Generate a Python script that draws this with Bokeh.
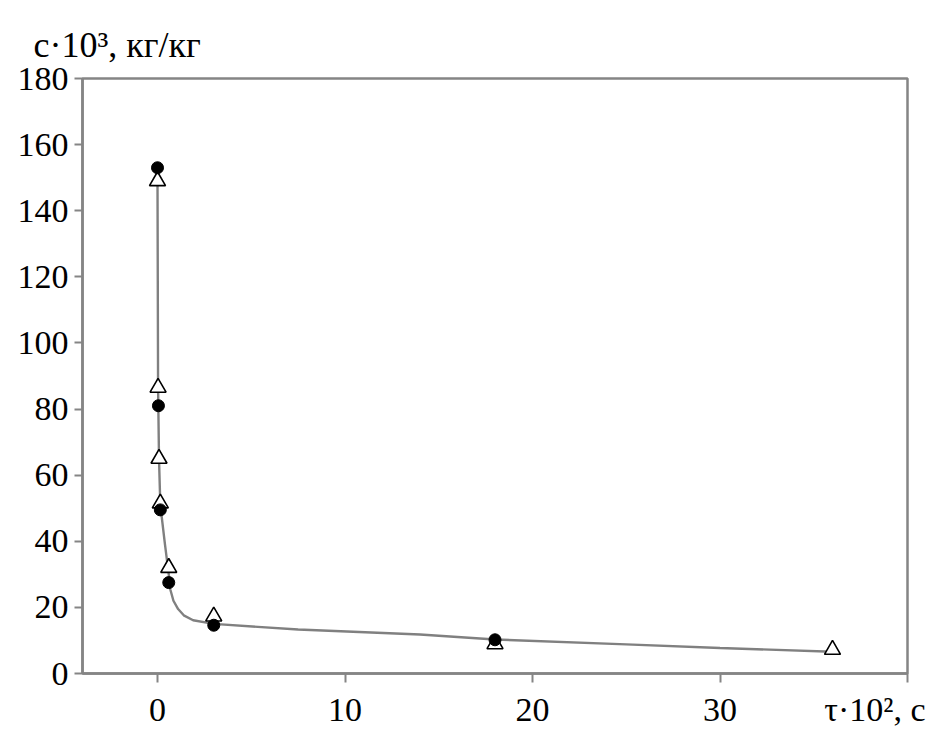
from bokeh.plotting import figure
from bokeh.models import Range1d, FixedTicker, Title
from bokeh.embed import file_html
from bokeh.resources import INLINE

# --- data (tau*10^2, s ; c*10^3, kg/kg) ---
circ_x = [0.0, 0.05, 0.15, 0.6, 3.0, 18.0]
circ_y = [153.0, 81.0, 49.5, 27.5, 14.6, 10.2]

tri_x = [0.0, 0.03, 0.08, 0.15, 0.6, 3.0, 18.0, 36.0]
tri_y = [149.0, 86.5, 65.0, 51.5, 32.0, 17.3, 8.9, 7.2]

curve_x = [0.0, 0.03, 0.08, 0.15, 0.4, 0.6, 0.68, 0.85, 1.1, 1.4, 1.9, 3.0, 7.5, 14.0, 18.0, 25.0, 30.0, 36.0]
curve_y = [149.0, 87.0, 65.0, 51.0, 39.0, 30.0, 25.5, 22.0, 19.5, 17.6, 16.1, 15.0, 13.3, 11.8, 10.3, 8.8, 7.7, 6.6]

x_ticks = [0, 10, 20, 30, 40]
y_ticks = [0, 20, 40, 60, 80, 100, 120, 140, 160, 180]

x_title = "τ·10², с"
y_title = "c·10³, кг/кг"

FONT = "Liberation Serif"
GRAY = "#858585"

p = figure(width=942, height=734, output_backend="svg", toolbar_location=None,
           x_range=Range1d(-4, 40), y_range=Range1d(0, 180),
           min_border_left=82, min_border_right=35, min_border_top=78, min_border_bottom=61)
p.xgrid.visible = False
p.ygrid.visible = False
p.outline_line_color = GRAY
p.outline_line_width = 2.5
p.background_fill_color = "white"
p.border_fill_color = "white"

for ax in (p.xaxis[0], p.yaxis[0]):
    ax.axis_line_color = GRAY
    ax.axis_line_width = 2.5
    ax.major_tick_line_color = GRAY
    ax.major_tick_line_width = 2
    ax.major_tick_in = 0
    ax.minor_tick_line_color = None
    ax.major_label_text_font = FONT
    ax.major_label_text_font_size = "34px"
    ax.major_label_text_color = "black"

p.xaxis[0].ticker = FixedTicker(ticks=x_ticks)
p.xaxis[0].major_tick_out = 9
p.xaxis[0].major_label_standoff = 8
# the last tick carries the axis title (trailing no-break spaces shift it left)
p.xaxis[0].major_label_overrides = {40: x_title + "\u00a0" * 2}
p.yaxis[0].ticker = FixedTicker(ticks=y_ticks)
p.yaxis[0].major_tick_out = 8
p.yaxis[0].major_label_standoff = 6

p.add_layout(Title(text=y_title, align="left", offset=-49, standoff=28,
                   text_font=FONT, text_font_size="36px", text_font_style="normal",
                   text_color="black"), "above")

p.line(curve_x, curve_y, line_color="#808080", line_width=2.4)
p.scatter(tri_x, tri_y, marker="triangle", size=16, fill_color="white",
          line_color="black", line_width=1.6)
p.scatter(circ_x, circ_y, marker="circle", size=12, fill_color="black",
          line_color="black")

open("out.html", "w").write(file_html(p, INLINE))
